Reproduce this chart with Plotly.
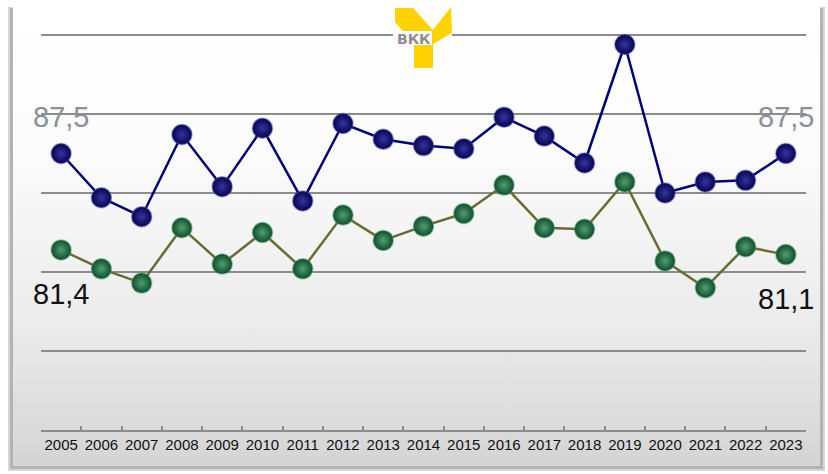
import plotly.graph_objects as go

# ── data ───────────────────────────────────────────────────────────
YEARS = [str(y) for y in range(2005, 2024)]
SERIES_TOP = [87.5, 84.7, 83.5, 88.7, 85.4, 89.1, 84.5, 89.4, 88.4, 88.0,
              87.8, 89.8, 88.6, 86.9, 94.4, 85.0, 85.7, 85.8, 87.5]
SERIES_LOW = [81.4, 80.2, 79.3, 82.8, 80.5, 82.5, 80.2, 83.6, 82.0, 82.9,
              83.7, 85.5, 82.8, 82.7, 85.7, 80.7, 79.0, 81.6, 81.1]

W, H = 828, 474
BLUE, GREEN = "#00007a", "#6b6b2e"
Y_MIN, Y_MAX = 70, 95.1        # a hair over 95 so the top gridline is kept
PX_PER_UNIT = 395 / 25         # 70 sits at y=430px, 95 at y=35px


def lbl(v):
    return f"{v:.1f}".replace(".", ",")


fig = go.Figure()

# ── card background (pixel axes x/y) ───────────────────────────────
def rect(x0, y0, x1, y1):
    return [x0, x1, x1, x0, x0], [y0, y0, y1, y1, y0]

for box, col in [((8, 7, 825, 471), "#d6d6d6"), ((10, 8, 823, 469), "#b3b3b3")]:
    xs, ys = rect(*box)
    fig.add_trace(go.Scatter(x=xs, y=ys, fill="toself", fillcolor=col,
                             mode="none", hoverinfo="skip", showlegend=False,
                             xaxis="x", yaxis="y"))
xs, ys = rect(13, 5, 820, 466)
fig.add_trace(go.Scatter(
    x=xs, y=ys, fill="toself", mode="none", hoverinfo="skip", showlegend=False,
    fillgradient=dict(type="vertical", start=5, stop=466,
                      colorscale=[[0, "#ffffff"], [0.3, "#fcfcfc"],
                                  [0.7, "#ebebeb"], [1, "#d4d4d4"]]),
    xaxis="x", yaxis="y"))

# ── series (category axes x2/y2) ───────────────────────────────────
for vals, line_col, edge, center, halo in [
    (SERIES_TOP, BLUE, "#05054d", "#3434a0", "rgba(70,70,190,0.45)"),
    (SERIES_LOW, GREEN, "#0f4d2c", "#4f9f70", "rgba(60,150,100,0.45)"),
]:
    fig.add_trace(go.Scatter(
        x=YEARS, y=vals, mode="lines+markers", showlegend=False,
        line=dict(color=line_col, width=2.5),
        marker=dict(size=20, color=edge,
                    gradient=dict(type="radial", color=center),
                    line=dict(color=halo, width=1.5)),
        xaxis="x2", yaxis="y2"))

# value labels at both ends (x given as category index)
annotations = []
for i in (0, len(YEARS) - 1):
    annotations.append(dict(x=i, y=SERIES_TOP[i], xref="x2", yref="y2",
                            text=lbl(SERIES_TOP[i]), showarrow=False, yshift=37,
                            font=dict(size=29, color="#8a9099",
                                      family="Liberation Sans")))
    annotations.append(dict(x=i, y=SERIES_LOW[i], xref="x2", yref="y2",
                            text=lbl(SERIES_LOW[i]), showarrow=False, yshift=-44,
                            font=dict(size=29, color="#111111",
                                      family="Liberation Sans")))

# ── logo (pixel coords) ────────────────────────────────────────────
shapes = [
    dict(type="rect", xref="x", yref="y", x0=393, x1=452, y0=29, y1=41,
         fillcolor="white", line=dict(width=0), layer="above"),
    dict(type="path", xref="x", yref="y", layer="above",
         path="M395,8 L413,8 L433,30 L451,7 L452,33 L433,44 L433,68 "
              "L414,68 L414,44 L395,22 Z",
         fillcolor="#ffd200", line=dict(width=0)),
    dict(type="rect", xref="x", yref="y", x0=395, x1=432, y0=31, y1=45,
         fillcolor="white", line=dict(width=0), layer="above"),
]
annotations.append(dict(x=414, y=38.5, xref="x", yref="y", text="<b>ВКК</b>",
                        showarrow=False,
                        font=dict(size=14, color="#8c8c8c",
                                  family="DejaVu Sans")))

top_px = 35 - (Y_MAX - 95) * PX_PER_UNIT

fig.update_layout(
    width=W, height=H,
    margin=dict(l=0, r=0, t=0, b=0),
    paper_bgcolor="white", plot_bgcolor="rgba(0,0,0,0)",
    xaxis=dict(domain=[0, 1], range=[0, W], visible=False, fixedrange=True),
    yaxis=dict(domain=[0, 1], range=[H, 0], visible=False, fixedrange=True),
    xaxis2=dict(domain=[41 / W, 806 / W], anchor="y2", type="category",
                categoryorder="array", categoryarray=YEARS,
                range=[-0.5, len(YEARS) - 0.5], autorange=False, tickangle=0,
                showgrid=False, showline=True, linecolor="#8c8c8c", linewidth=2,
                ticks="inside", tickson="boundaries", ticklen=4,
                tickcolor="#8c8c8c", tickwidth=1.5,
                tickfont=dict(size=15, color="#111111", family="Liberation Sans")),
    yaxis2=dict(domain=[(H - 430) / H, (H - top_px) / H], anchor="x2",
                range=[Y_MIN, Y_MAX], autorange=False, tick0=70, dtick=5,
                showgrid=True, gridcolor="#8c8c8c", gridwidth=2, zeroline=False,
                showticklabels=False, showline=False),
    shapes=shapes,
    annotations=annotations,
)

# page body has a default 8px margin; drop it so the figure sits at 0,0
fig.write_html("out.html", config={"displayModeBar": False},
               post_script="document.body.style.margin='0px';")
